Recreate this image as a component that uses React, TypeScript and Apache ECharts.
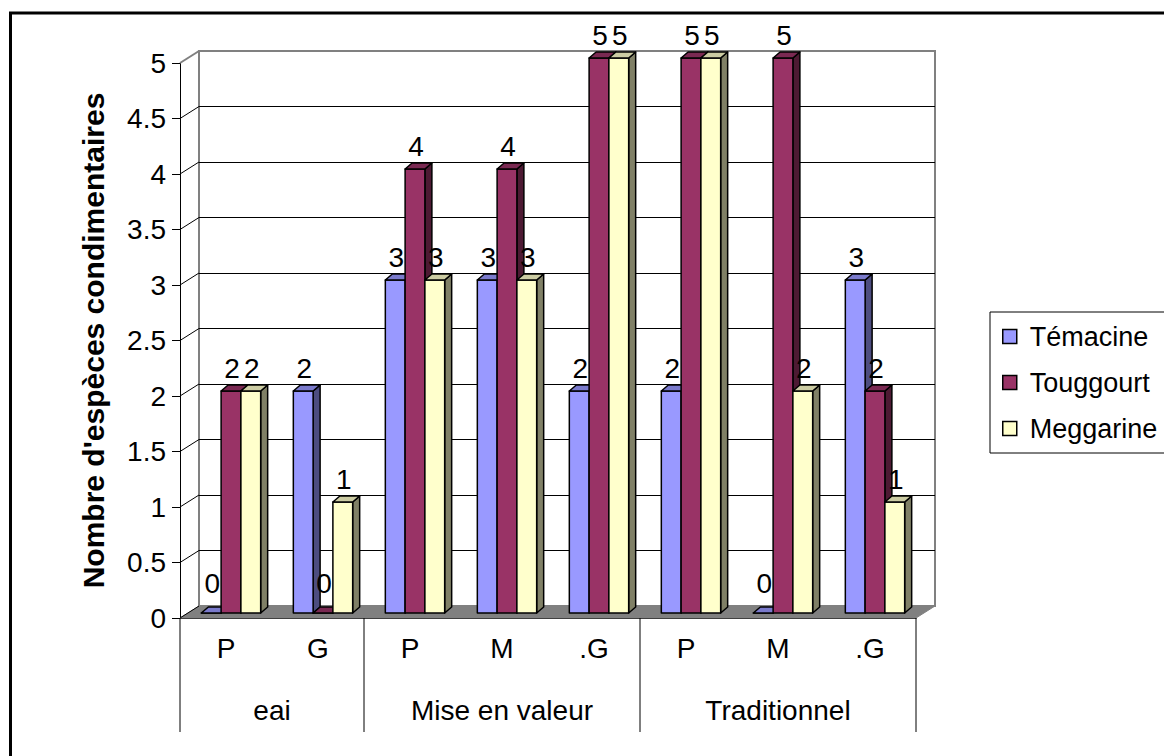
import React, { useEffect, useRef } from "react";
import * as echarts from "echarts";

// Sub-categories (bottom level) and the groups they belong to
const categories = ["P", "G", "P", "M", ".G", "P", "M", ".G"];
const groupNames = ["eai", "Mise en valeur", "Traditionnel"];
const groupSpans: [number, number][] = [
  [0, 1],
  [2, 4],
  [5, 7],
];

// Number of condiment species per site
const seriesNames = ["Témacine", "Touggourt", "Meggarine"];
const temacine = [0, 2, 3, 3, 2, 2, 0, 3];
const touggourt = [2, 0, 4, 4, 5, 5, 5, 2];
const meggarine = [2, 1, 3, 3, 5, 5, 2, 1];

const yTicks = [0, 0.5, 1, 1.5, 2, 2.5, 3, 3.5, 4, 4.5, 5];

const FONT = "'Liberation Sans', Arial, sans-serif";
const FS = 28;
const LEGEND_FS = 27;

// 3D look: offset of the back wall, of the bar front and of the bar depth
const WALL_DX = 19;
const WALL_DY = -12;
const BAR_FX = 5;
const BAR_FY = -5;
const BAR_SX = 7;
const BAR_SY = -6;

const faceColors = [
  { front: "#9999FF", side: "#4D4D80", top: "#7A7ACC" },
  { front: "#993366", side: "#4D1A33", top: "#7A2952" },
  { front: "#FFFFCC", side: "#808066", top: "#CCCCA3" },
];

function barRenderer(k: number) {
  return (params: any, api: any) => {
    const cat = api.value(0);
    const val = api.value(1);
    const base = api.coord([cat, 0]);
    const top = api.coord([cat, val]);
    const bandW = api.size([1, 0])[0];
    const w = bandW * 0.215;
    const x0 = base[0] - 1.5 * w + k * w + BAR_FX;
    const yB = base[1] + BAR_FY;
    const yT = top[1] + BAR_FY;
    const c = faceColors[k];
    const stroke = { stroke: "#000", lineWidth: 1.5, lineJoin: "round" };
    return {
      type: "group",
      children: [
        {
          type: "polygon",
          shape: {
            points: [
              [x0 + w, yT],
              [x0 + w + BAR_SX, yT + BAR_SY],
              [x0 + w + BAR_SX, yB + BAR_SY],
              [x0 + w, yB],
            ],
          },
          style: { fill: c.side, ...stroke },
        },
        {
          type: "rect",
          shape: { x: x0, y: yT, width: w, height: yB - yT },
          style: { fill: c.front, ...stroke },
        },
        {
          type: "polygon",
          shape: {
            points: [
              [x0, yT],
              [x0 + BAR_SX, yT + BAR_SY],
              [x0 + w + BAR_SX, yT + BAR_SY],
              [x0 + w, yT],
            ],
          },
          style: { fill: c.top, ...stroke },
        },
        {
          type: "text",
          style: {
            text: String(val),
            x: x0 + w / 2 + 1,
            y: Math.min(yT - 23, yB - 30),
            align: "center",
            verticalAlign: "middle",
            fontSize: FS,
            fontFamily: FONT,
            fill: "#000",
          },
        },
      ],
    };
  };
}

export default function App() {
  const ref = useRef<HTMLDivElement>(null);

  useEffect(() => {
    document.body.style.margin = "0";
    if (!ref.current) return;
    const chart = echarts.init(ref.current, undefined, { renderer: "svg" });

    const seriesData = [temacine, touggourt, meggarine];

    const option: any = {
      animation: false,
      backgroundColor: "#fff",
      textStyle: { fontFamily: FONT },
      graphic: [
        {
          type: "rect",
          shape: { x: 10.5, y: 13, width: 1200, height: 800 },
          style: { fill: "none", stroke: "#000", lineWidth: 3 },
          z: 100,
        },
      ],
      legend: {
        orient: "vertical",
        left: 990,
        top: 312,
        padding: [11, 10, 11, 12],
        itemGap: 19,
        itemWidth: 14,
        itemHeight: 14,
        icon: "rect",
        borderColor: "#000",
        borderWidth: 1,
        itemStyle: { borderColor: "#000", borderWidth: 1.5 },
        textStyle: { fontSize: LEGEND_FS, fontFamily: FONT, color: "#000", padding: [0, 0, 0, 8] },
        data: seriesNames,
      },
      grid: [
        { left: 180, right: 248, top: 63, bottom: 138 },
        {
          left: 180 + WALL_DX,
          right: 248 - WALL_DX,
          top: 63 + WALL_DY,
          bottom: 138 - WALL_DY,
          show: true,
          backgroundColor: "#fff",
          borderColor: "#808080",
          borderWidth: 2,
        },
      ],
      xAxis: [
        {
          type: "category",
          gridIndex: 0,
          data: categories,
          axisLine: { lineStyle: { color: "#000", width: 1 } },
          axisTick: { length: 54, lineStyle: { color: "#000", width: 1 } },
          axisLabel: { fontSize: FS, fontFamily: FONT, color: "#000", margin: 16 },
          splitLine: { show: false },
        },
        { type: "value", gridIndex: 1, min: 0, max: 1, show: false },
      ],
      yAxis: [
        {
          type: "value",
          gridIndex: 0,
          min: 0,
          max: 5,
          interval: 0.5,
          name: "Nombre d'espèces condimentaires",
          nameLocation: "middle",
          nameRotate: 90,
          nameGap: 72,
          nameTextStyle: { fontSize: 30, fontWeight: "bold", fontFamily: FONT, color: "#000" },
          axisLine: { show: true, lineStyle: { color: "#000", width: 1 } },
          axisTick: { show: true, length: 8, lineStyle: { color: "#000" } },
          axisLabel: { fontSize: FS, fontFamily: FONT, color: "#000", margin: 14 },
          splitLine: { show: false },
        },
        {
          type: "value",
          gridIndex: 1,
          min: 0,
          max: 5,
          interval: 0.5,
          axisLine: { show: false },
          axisTick: { show: false },
          axisLabel: { show: false },
          splitLine: {
            show: true,
            lineStyle: {
              color: ["#808080", "#000", "#000", "#000", "#000", "#000", "#000", "#000", "#000", "#000", "#808080"],
              width: 1,
            },
          },
        },
      ],
      series: [
        // side wall diagonals and the grey floor
        {
          type: "custom",
          name: "frame",
          xAxisIndex: 0,
          yAxisIndex: 0,
          clip: false,
          z: 1,
          silent: true,
          data: yTicks.map((v) => [0, v]),
          renderItem: (params: any, api: any) => {
            const cs = params.coordSys;
            const v = api.value(1);
            const p = api.coord([0, v]);
            const children: any[] = [];
            if (v === 0) {
              const y0 = p[1];
              children.push({
                type: "polygon",
                shape: {
                  points: [
                    [cs.x, y0],
                    [cs.x + WALL_DX, y0 + WALL_DY],
                    [cs.x + cs.width + WALL_DX, y0 + WALL_DY],
                    [cs.x + cs.width, y0],
                  ],
                },
                style: { fill: "#808080", stroke: "#808080", lineWidth: 1 },
              });
            }
            children.push({
              type: "line",
              shape: { x1: cs.x, y1: p[1], x2: cs.x + WALL_DX, y2: p[1] + WALL_DY },
              style: { stroke: v === 5 ? "#808080" : "#000", lineWidth: v === 5 ? 2 : 1 },
            });
            return { type: "group", children };
          },
        },
        ...seriesNames.map((name, k) => ({
          type: "custom",
          name,
          xAxisIndex: 0,
          yAxisIndex: 0,
          clip: false,
          z: 2,
          itemStyle: { color: faceColors[k].front, borderColor: "#000", borderWidth: 1.5 },
          data: seriesData[k].map((v, i) => [i, v]),
          renderItem: barRenderer(k),
        })),
        // group level of the category axis
        {
          type: "custom",
          name: "groups",
          xAxisIndex: 0,
          yAxisIndex: 0,
          clip: false,
          z: 3,
          silent: true,
          data: groupSpans.map((s, i) => [s[0], s[1], i]),
          renderItem: (params: any, api: any) => {
            const a = api.value(0);
            const b = api.value(1);
            const gi = api.value(2);
            const half = api.size([1, 0])[0] / 2;
            const pa = api.coord([a, 0]);
            const pb = api.coord([b, 0]);
            const xl = pa[0] - half;
            const xr = pb[0] + half;
            const y0 = pa[1];
            const children: any[] = [
              { type: "line", shape: { x1: xl, y1: y0, x2: xl, y2: y0 + 114 }, style: { stroke: "#000", lineWidth: 1 } },
              {
                type: "text",
                style: {
                  text: groupNames[gi],
                  x: (xl + xr) / 2,
                  y: y0 + 92,
                  align: "center",
                  verticalAlign: "middle",
                  fontSize: FS,
                  fontFamily: FONT,
                  fill: "#000",
                },
              },
            ];
            if (gi === groupNames.length - 1) {
              children.push({
                type: "line",
                shape: { x1: xr, y1: y0, x2: xr, y2: y0 + 114 },
                style: { stroke: "#000", lineWidth: 1 },
              });
            }
            return { type: "group", children };
          },
        },
      ],
    };

    chart.setOption(option);
    return () => chart.dispose();
  }, []);

  return <div ref={ref} style={{ width: 1164, height: 756 }} />;
}
